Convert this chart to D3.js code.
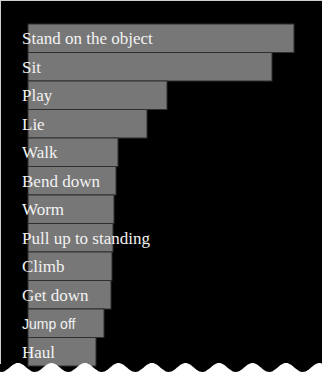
<!DOCTYPE html>
<html>
<head>
<meta charset="utf-8">
<script src="https://cdn.jsdelivr.net/npm/d3@7"></script>
<style>
  html, body { margin: 0; padding: 0; background: #ffffff; }
  svg { display: block; }
</style>
</head>
<body>
<svg id="chart" width="322" height="374"></svg>
<script>
const categories = ["Stand on the object", "Sit", "Play", "Lie", "Walk", "Bend down", "Worm",
  "Pull up to standing", "Climb", "Get down", "Jump off", "Haul"];
const values = [266, 244, 139, 119, 90, 88, 86, 85, 84, 83, 76, 68];
const sansLabels = ["Jump off"];

const W = 322, H = 374;
const svg = d3.select("#chart");

// background
svg.append("rect").attr("x", 0).attr("y", 0).attr("width", W).attr("height", H).attr("fill", "#000");

const x = d3.scaleLinear().domain([0, 266]).range([28, 294]);
const y = d3.scaleBand().domain(categories).range([24, 24 + 12 * 28.5]).padding(0);

const g = svg.append("g");
g.selectAll("rect.bar").data(categories).join("rect")
  .attr("class", "bar")
  .attr("x", x(0))
  .attr("y", d => y(d))
  .attr("width", (d, i) => x(values[i]) - x(0))
  .attr("height", y.bandwidth())
  .attr("fill", "#777777")
  .attr("stroke", "#2e2e2e")
  .attr("stroke-width", 1);

g.selectAll("text.lbl").data(categories).join("text")
  .attr("class", "lbl")
  .attr("x", 22)
  .attr("y", d => y(d) + y.bandwidth() / 2 + 6)
  .attr("fill", "#f2f2f2")
  .style("font-family", d => sansLabels.includes(d) ? "'Liberation Sans', Arial, sans-serif" : "'Liberation Serif', 'Times New Roman', serif")
  .style("font-size", d => sansLabels.includes(d) ? "14px" : "17px")
  .text(d => d);

// torn bottom edge (decorative wave)
const P = 33.5, x0 = 18, mid = 367.5, amp = 4.5;
const pts = d3.range(-2, W + 3, 1).map(px => [px, mid - amp * Math.cos(2 * Math.PI * (px - x0) / P)]);
const area = d3.area().x(d => d[0]).y0(H + 2).y1(d => d[1]).curve(d3.curveBasis);
svg.append("path").attr("d", area(pts)).attr("fill", "#ffffff");

// thin light frame at top and left
svg.append("rect").attr("x", 0).attr("y", 0).attr("width", W).attr("height", 1).attr("fill", "#cfcfcf");
svg.append("rect").attr("x", 0).attr("y", 0).attr("width", 1).attr("height", 364).attr("fill", "#cfcfcf");
</script>
</body>
</html>
